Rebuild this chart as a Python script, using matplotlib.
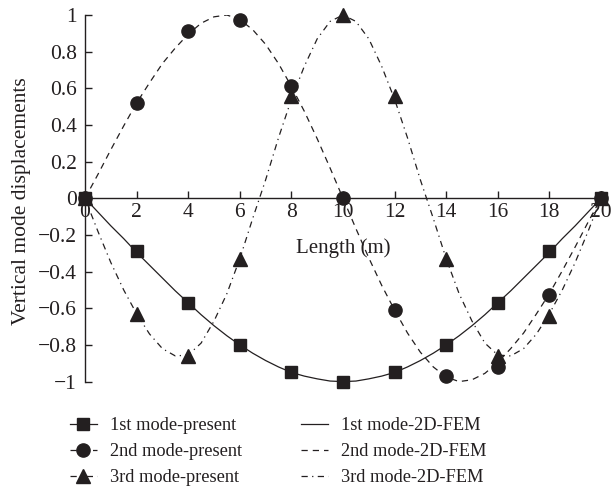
import numpy as np
import matplotlib.pyplot as plt
from matplotlib.lines import Line2D

# present method: values at every 2 m
x_pts = [0, 2, 4, 6, 8, 10, 12, 14, 16, 18, 20]
mode1_pts = [0, -0.29, -0.57, -0.80, -0.95, -1.0, -0.95, -0.80, -0.57, -0.29, 0]
mode2_pts = [0, 0.52, 0.91, 0.97, 0.61, 0.0, -0.61, -0.97, -0.92, -0.53, 0]
mode3_pts = [0, -0.63, -0.86, -0.33, 0.56, 1.0, 0.56, -0.33, -0.86, -0.64, 0]

# 2D-FEM curves read every 0.5 m
x_fem = [0, 0.5, 1, 1.5, 2, 2.5, 3, 3.5, 4, 4.5, 5, 5.5, 6, 6.5, 7, 7.5, 8, 8.5, 9, 9.5,
         10, 10.5, 11, 11.5, 12, 12.5, 13, 13.5, 14, 14.5, 15, 15.5, 16, 16.5, 17, 17.5,
         18, 18.5, 19, 19.5, 20]
mode1_fem = [0, -0.075, -0.15, -0.22, -0.295, -0.365, -0.435, -0.505, -0.57, -0.635,
             -0.695, -0.75, -0.80, -0.845, -0.885, -0.92, -0.95, -0.97, -0.985, -0.997,
             -1.0, -0.997, -0.985, -0.97, -0.95, -0.92, -0.885, -0.845, -0.80, -0.75,
             -0.695, -0.635, -0.57, -0.505, -0.435, -0.365, -0.295, -0.22, -0.15, -0.075, 0]
mode2_fem = [0, 0.13, 0.265, 0.395, 0.52, 0.63, 0.735, 0.82, 0.895, 0.955,
             0.99, 1.0, 0.975, 0.92, 0.84, 0.735, 0.61, 0.475, 0.325, 0.165,
             0.0, -0.165, -0.325, -0.475, -0.61, -0.735, -0.84, -0.92, -0.975, -1.0,
             -0.99, -0.955, -0.895, -0.82, -0.735, -0.63, -0.52, -0.395, -0.265, -0.13, 0]
mode3_fem = [0, -0.18, -0.35, -0.50, -0.63, -0.74, -0.82, -0.86, -0.855, -0.79,
             -0.67, -0.52, -0.33, -0.11, 0.10, 0.33, 0.54, 0.72, 0.87, 0.965,
             1.0, 0.965, 0.87, 0.72, 0.54, 0.33, 0.10, -0.11, -0.33, -0.52,
             -0.67, -0.79, -0.855, -0.86, -0.82, -0.74, -0.63, -0.50, -0.35, -0.18, 0]

labels_present = ["1st mode-present", "2nd mode-present", "3rd mode-present"]
labels_fem = ["1st mode-2D-FEM", "2nd mode-2D-FEM", "3rd mode-2D-FEM"]

K = "#231f20"
plt.rcParams.update({"font.family": "Liberation Serif"})

fig = plt.figure(figsize=(6.11, 4.96), dpi=100)
ax = fig.add_axes([85 / 611, 1 - 381.6 / 496, 516 / 611, 366.6 / 496])

lw = 0.9
dash = (5, 4)
dashdot = (5, 3.5, 1, 3.5)
ax.plot(x_fem, mode1_fem, "-", color=K, lw=lw, zorder=2)
ax.plot(x_fem, mode2_fem, color=K, lw=lw, dashes=dash, zorder=2)
ax.plot(x_fem, mode3_fem, color=K, lw=lw, dashes=dashdot, zorder=2)

ms = 9.5
ax.plot(x_pts, mode1_pts, "s", color=K, ms=ms - 0.5, ls="none", zorder=4, clip_on=False)
ax.plot(x_pts, mode2_pts, "o", color=K, ms=ms, ls="none", zorder=4, clip_on=False)
ax.plot(x_pts, mode3_pts, "^", color=K, ms=ms, ls="none", zorder=4, clip_on=False)

ax.set_xlim(0, 20)
ax.set_ylim(-1, 1)
ax.set_xticks(range(0, 21, 2))
ax.set_yticks([-1, -0.8, -0.6, -0.4, -0.2, 0, 0.2, 0.4, 0.6, 0.8, 1])
ax.set_yticklabels(["\u22121", "\u22120.8", "\u22120.6", "\u22120.4", "\u22120.2", "0",
                    "0.2", "0.4", "0.6", "0.8", "1"])
ax.spines["top"].set_visible(False)
ax.spines["right"].set_visible(False)
ax.spines["bottom"].set_position(("data", 0))
for s in ("left", "bottom"):
    ax.spines[s].set_color(K)
    ax.spines[s].set_linewidth(1.0)
ax.tick_params(axis="both", direction="in", length=5, width=1.0, color=K,
               labelsize=15.5, labelcolor=K)
ax.tick_params(axis="y", pad=6)
ax.tick_params(axis="x", pad=3.5)

ax.text(10, -0.27, "Length (m)", ha="center", va="center", fontsize=15, color=K)
fig.text(21.7 / 611, 1 - 201.5 / 496, "Vertical mode displacements", rotation=90,
         ha="center", va="center", fontsize=15.5, color=K)

handles = [
    Line2D([], [], color=K, lw=lw, ls="-", marker="s", ms=ms - 0.5),
    Line2D([], [], color=K, lw=lw, dashes=dash, marker="o", ms=ms),
    Line2D([], [], color=K, lw=lw, dashes=dashdot, marker="^", ms=ms),
    Line2D([], [], color=K, lw=lw, ls="-"),
    Line2D([], [], color=K, lw=lw, dashes=dash),
    Line2D([], [], color=K, lw=lw, dashes=dashdot),
]
fig.legend(handles, labels_present + labels_fem, ncol=2, frameon=False,
           loc="center", bbox_to_anchor=(0.455, 0.0893), fontsize=13.2,
           handlelength=1.5, handletextpad=0.7, columnspacing=3.2,
           labelspacing=0.5, borderpad=0, labelcolor=K)

fig.savefig("out.png", dpi=100)
